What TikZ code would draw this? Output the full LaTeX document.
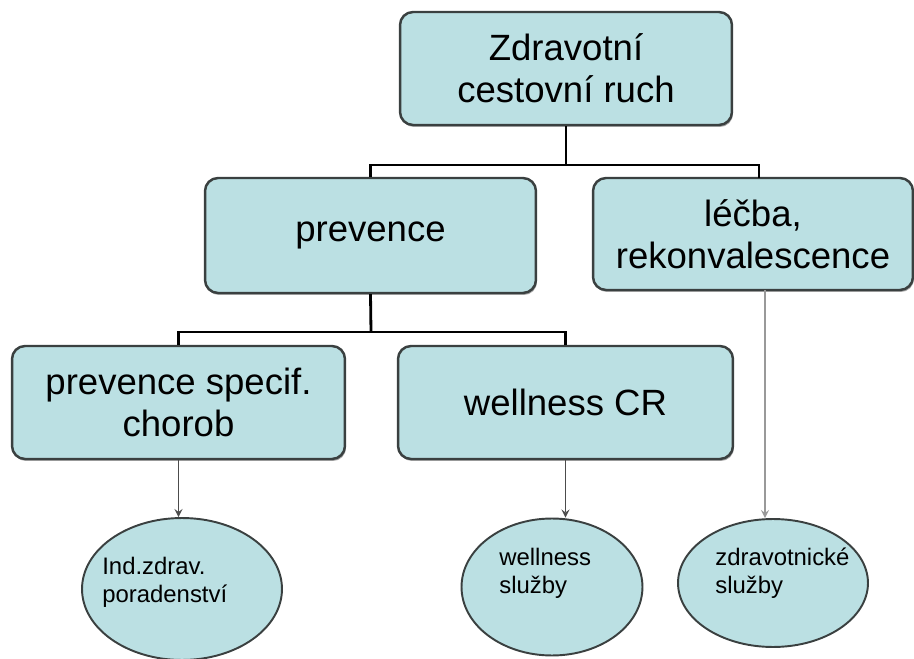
\documentclass[tikz,border=0pt]{standalone}
\usepackage{fontspec}
\setmainfont{Liberation Sans}
\usetikzlibrary{shapes.geometric,shadows}
\definecolor{boxfill}{RGB}{187,224,227}
\definecolor{boxline}{RGB}{58,64,64}

\begin{document}
\begin{tikzpicture}[x=0.02cm,y=-0.02cm,
    box/.style={draw=boxline, line width=1.4pt, fill=boxfill, rounded corners=0.26cm,
        minimum width=6.64cm, minimum height=2.26cm, align=center,
        font=\fontsize{20.8}{23.8}\selectfont,
        drop shadow={shadow xshift=0.02cm, shadow yshift=-0.04cm, fill=black, opacity=0.35}},
    leaf/.style={draw=boxline, line width=1.1pt, fill=boxfill, ellipse, inner sep=0pt},
    leaftext/.style={anchor=north west, inner sep=0pt, align=left,
        font=\fontsize{13.6}{15.9}\selectfont},
    tree/.style={line width=1.6pt, black},
    link/.style={line width=1pt, black!70, -stealth}]
            \useasboundingbox (0,0) rectangle (914,659);

            \node [box] (top) at (566,68.5) {Zdravotní\\cestovní ruch};
            \node [box, minimum width=6.62cm, minimum height=2.3cm] (prev) at (370.5,235.5) {prevence};
            \node [box, minimum width=6.4cm, minimum height=2.24cm] (lecba) at (753,234) {léčba,\\rekonvalescence};
            \node [box, minimum width=6.66cm] (chorob) at (178.5,402.5) {prevence specif.\\chorob};
            \node [box, minimum width=6.7cm] (wellCR) at (565.5,402.5) {wellness CR};

            \node [leaf, minimum width=4cm, minimum height=2.84cm] (e1) at (182,589) {};
            \node [leaf, minimum width=3.62cm, minimum height=2.74cm] (e2) at (552,587) {};
            \node [leaf, minimum width=3.8cm, minimum height=2.56cm] (e3) at (773,583) {};
            \node [leaftext] (t1) at (102,557) {Ind.zdrav.\\poradenství};
            \node [leaftext] (t2) at (499,548) {wellness\\služby};
            \node [leaftext] (t3) at (715,548) {zdravotnické\\služby};

            % tree connectors
            \coordinate (fork1) at (566,165);
            \coordinate (lecbaTop) at (759,178);
            \coordinate (fork2) at (371,332);
            \draw[tree] (top.south) -- (fork1);
            \draw[tree] (prev.north) |- (fork1) -| (lecbaTop);
            \draw[tree] (prev.south) -- (fork2);
            \draw[tree] (chorob.north) |- (fork2) -| (wellCR.north);

            % arrows to the services
            \coordinate (lecbaOut) at (765,290);
            \draw[link] (chorob.south) -- (chorob.south |- e1.north);
            \draw[link] (wellCR.south) -- (wellCR.south |- e2.north);
            \draw[link, black!40] (lecbaOut) -- (lecbaOut |- e3.north);
            \end{tikzpicture}
\end{document}
